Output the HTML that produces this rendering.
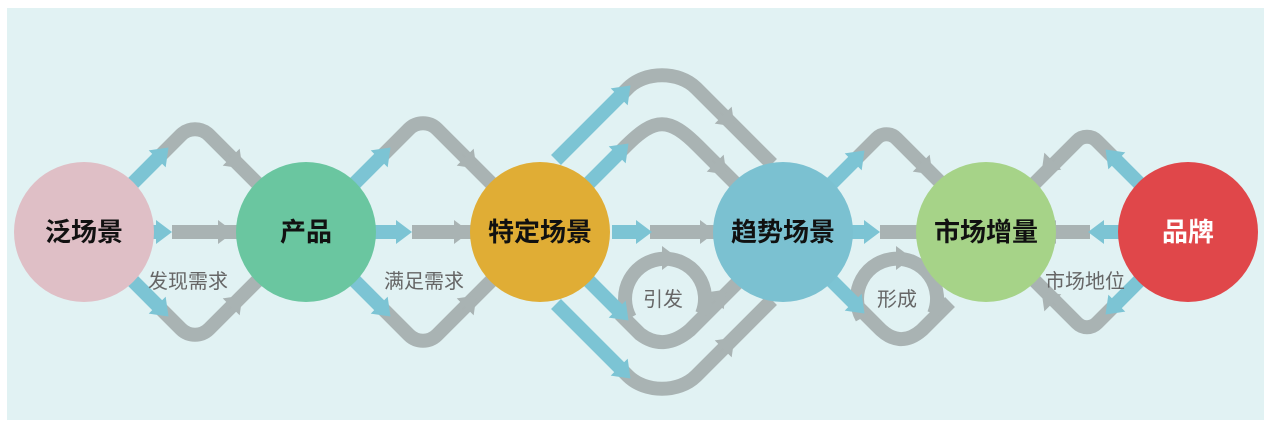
<!DOCTYPE html>
<html><head><meta charset="utf-8"><style>
html,body{margin:0;padding:0;background:#fff;}
svg{display:block;}
text{font-family:"Liberation Sans","Noto Sans CJK SC",sans-serif;}
</style></head><body>
<svg width="1271" height="427" viewBox="0 0 1271 427" xmlns="http://www.w3.org/2000/svg">
<defs>
<marker id="b" markerWidth="26" markerHeight="26" refX="4" refY="13" orient="auto" markerUnits="userSpaceOnUse"><path d="M0,1 L16,13 L0,25 Z" fill="#7cc4d4"/></marker>
<marker id="g" markerWidth="26" markerHeight="26" refX="4" refY="13" orient="auto" markerUnits="userSpaceOnUse"><path d="M0,1 L16,13 L0,25 Z" fill="#a9b3b3"/></marker>
</defs>
<rect x="7" y="8" width="1257" height="412" fill="#e1f2f3"/>
<g fill="none" stroke-width="14" stroke-linejoin="round">
<g stroke="#a9b3b3">
<path d="M160,156 L181,135 A20,20 0 0 1 209,135 L266,192"/>
<path d="M160,308 L181,329 A20,20 0 0 0 209,329 L266,272"/>
<path d="M172,232 L266,232"/>
<path d="M382,156 L409,129 A20,20 0 0 1 437,129 L500,192"/>
<path d="M382,308 L409,335 A20,20 0 0 0 437,335 L500,272"/>
<path d="M412,232 L500,232"/>
<path d="M618,154 L626,146 C655,117 669,117 698,146 L744,192"/>
<path d="M622,94 L628,88 C645,71 679,71 696,88 L772,164"/>
<path d="M622,370 L628,376 C645,393 679,393 696,376 L772,300"/>
<path d="M620,314 L640,334 Q664,352 690,330 L744,276"/>
<path d="M630,318 A40,40 0 1 1 702,314"/>
<path d="M650,232 L744,232"/>
<path d="M856,159 L876.5,138.5 A14,14 0 0 1 896.5,138.5 L950,192"/>
<path d="M856,305 L877,326 Q899,350 922,330 L950,302"/>
<path d="M862,318 A40,40 0 1 1 934,314"/>
<path d="M880,232 L950,232"/>
<path d="M1114,158 L1097,141 A14,14 0 0 0 1077,141 L1026,192"/>
<path d="M1114,306 L1097,323 A14,14 0 0 1 1077,323 L1026,272"/>
<path d="M1090,232 L1026,232"/>
</g>
<g stroke="#a9b3b3" stroke-width="1">
<path d="M228,154 L234,160" marker-end="url(#g)"/>
<path d="M228,310 L234,304" marker-end="url(#g)"/>
<path d="M214,232 L222,232" marker-end="url(#g)"/>
<path d="M462,154 L468,160" marker-end="url(#g)"/>
<path d="M462,310 L468,304" marker-end="url(#g)"/>
<path d="M450,232 L458,232" marker-end="url(#g)"/>
<path d="M712,160 L718,166" marker-end="url(#g)"/>
<path d="M720,112 L726,118" marker-end="url(#g)"/>
<path d="M720,352 L726,346" marker-end="url(#g)"/>
<path d="M712,304 L718,298" marker-end="url(#g)"/>
<path d="M696,232 L704,232" marker-end="url(#g)"/>
<path d="M660,258 L666,258" marker-end="url(#g)"/>
<path d="M918,160 L924,166" marker-end="url(#g)"/>
<path d="M922,232 L930,232" marker-end="url(#g)"/>
<path d="M894,258 L900,258" marker-end="url(#g)"/>
<path d="M1056,158 L1050,164" marker-end="url(#g)"/>
<path d="M1056,306 L1050,300" marker-end="url(#g)"/>
<path d="M1060,232 L1052,232" marker-end="url(#g)"/>
</g>
<g stroke="#7cc4d4">
<path d="M124,192 L160,156" marker-end="url(#b)"/>
<path d="M124,272 L160,308" marker-end="url(#b)"/>
<path d="M150,232 L160,232" marker-end="url(#b)"/>
<path d="M346,192 L382,156" marker-end="url(#b)"/>
<path d="M346,272 L382,308" marker-end="url(#b)"/>
<path d="M370,232 L400,232" marker-end="url(#b)"/>
<path d="M580,192 L620,152" marker-end="url(#b)"/>
<path d="M556,160 L622,94" marker-end="url(#b)"/>
<path d="M556,304 L622,370" marker-end="url(#b)"/>
<path d="M580,272 L620,312" marker-end="url(#b)"/>
<path d="M612,232 L640,232" marker-end="url(#b)"/>
<path d="M823,192 L856,159" marker-end="url(#b)"/>
<path d="M823,272 L856,305" marker-end="url(#b)"/>
<path d="M848,232 L868,232" marker-end="url(#b)"/>
<path d="M1148,192 L1114,158" marker-end="url(#b)"/>
<path d="M1148,272 L1114,306" marker-end="url(#b)"/>
<path d="M1124,232 L1100,232" marker-end="url(#b)"/>
</g>
</g>
<circle cx="84" cy="232" r="70" fill="#dfbfc6"/>
<circle cx="306" cy="232" r="70" fill="#6ac6a0"/>
<circle cx="540" cy="232" r="70" fill="#e0ad35"/>
<circle cx="783" cy="232" r="70" fill="#7bc1d1"/>
<circle cx="986" cy="232" r="70" fill="#a6d388"/>
<circle cx="1188" cy="232" r="70" fill="#e0474a"/>
<g font-size="26" font-weight="bold" text-anchor="middle" fill="#111">
<text x="84" y="241">泛场景</text>
<text x="306" y="241">产品</text>
<text x="540" y="241">特定场景</text>
<text x="783" y="241">趋势场景</text>
<text x="986" y="241">市场增量</text>
<text x="1188" y="241" fill="#fff">品牌</text>
</g>
<g font-size="20" text-anchor="middle" fill="#666">
<text x="188" y="288">发现需求</text>
<text x="424" y="288">满足需求</text>
<text x="663" y="306">引发</text>
<text x="897" y="306">形成</text>
<text x="1085" y="288">市场地位</text>
</g>
</svg>
</body></html>
